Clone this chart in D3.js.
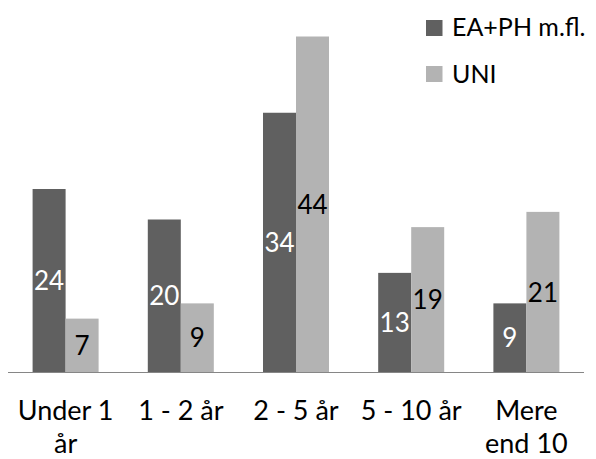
<!DOCTYPE html>
<html><head><meta charset="utf-8">
<script src="https://cdn.jsdelivr.net/npm/d3@7"></script>
<style>
html,body{margin:0;padding:0;background:#fff;}
svg text{font-family:Lato,"Open Sans",sans-serif;}
</style></head>
<body><svg id="c" width="596" height="459"></svg>
<script>
const categories = [["Under 1","år"],["1 - 2 år"],["2 - 5 år"],["5 - 10 år"],["Mere","end 10"]];
const seriesNames = ["EA+PH m.fl.","UNI"];
const eaph = [24,20,34,13,9];
const uni = [7,9,44,19,21];
const colors = ["#606060","#b3b3b3"];
const labelColors = ["#ffffff","#000000"];

const svg = d3.select("#c");
const fsVal = 26, fsTick = 27, fsLeg = 25;
const keys = categories.map((c,i)=>i);
const x0 = d3.scaleBand().domain(keys).range([8,584]).paddingInner(0.427).paddingOuter(0.2135);
const x1 = d3.scaleBand().domain([0,1]).range([0,x0.bandwidth()]);
const y = d3.scaleLinear().domain([0,44]).range([372,36.5]);
const data = [eaph, uni];

const g = svg.append("g");
data.forEach((vals,s)=>{
  g.selectAll(".b"+s).data(vals).enter().append("rect")
    .attr("x",(d,i)=>x0(i)+x1(s)).attr("width",x1.bandwidth())
    .attr("y",d=>y(d)).attr("height",d=>y(0)-y(d))
    .attr("fill",colors[s]);
  g.selectAll(".t"+s).data(vals).enter().append("text")
    .attr("x",(d,i)=>x0(i)+x1(s)+x1.bandwidth()/2)
    .attr("y",d=>(y(d)+y(0))/2+fsVal*0.37)
    .attr("text-anchor","middle").attr("font-size",fsVal)
    .attr("fill",labelColors[s]).text(d=>d);
});

// axis
const axis = d3.axisBottom(x0).tickSize(0).tickFormat("");
const ax = svg.append("g").attr("transform","translate(0,372)").call(axis);
ax.select(".domain").attr("stroke","#868686").attr("d","M8,0.5H584");
categories.forEach((lines,i)=>{
  const t = svg.append("text").attr("text-anchor","middle").attr("font-size",fsTick).attr("fill","#000");
  lines.forEach((ln,j)=>{
    t.append("tspan").attr("x",x0(i)+x0.bandwidth()/2).attr("y",420+j*33).text(ln);
  });
});

// legend
const leg = svg.append("g");
seriesNames.forEach((n,s)=>{
  leg.append("rect").attr("x",426).attr("y",20+s*46).attr("width",16.5).attr("height",16).attr("fill",colors[s]);
  leg.append("text").attr("x",452).attr("y",36+s*47).attr("font-size",fsLeg).attr("fill","#000").text(n);
});
</script></body></html>
